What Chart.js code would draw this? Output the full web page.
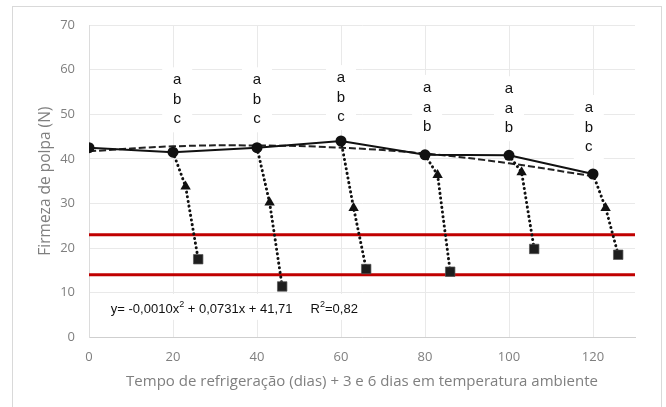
<!DOCTYPE html>
<html>
<head>
<meta charset="utf-8">
<script src="https://cdn.jsdelivr.net/npm/chart.js@4.4.1/dist/chart.umd.min.js"></script>
<style>
  html, body { margin: 0; padding: 0; background: #fff; }
  #wrap { position: relative; width: 666px; height: 407px; }
</style>
</head>
<body>
<div id="wrap"><canvas id="grafico" width="666" height="407"></canvas></div>
<script>
// Dados
const DIAS = [0, 20, 40, 60, 80, 100, 120];
const FIRMEZA = [42.5, 41.5, 42.5, 44.0, 40.9, 40.8, 36.6];
const TENDENCIA = [41.7, 42.8, 43.0, 42.5, 41.2, 39.0, 36.1];
const DIAS_3 = [23, 43, 63, 83, 103, 123];
const FIRMEZA_3 = [33.8, 30.2, 29.0, 36.4, 37.0, 29.0];
const DIAS_6 = [26, 46, 66, 86, 106, 126];
const FIRMEZA_6 = [17.5, 11.4, 15.3, 14.7, 19.8, 18.5];
const LIMITES = [23, 14];
const LIMITE_X = [0, 130];
const LETRAS_X = [21, 40, 60, 80.5, 100, 119];
const LETRAS_Y = [57.6, 57.6, 58.1, 55.9, 55.6, 51.4];
const LETRAS = [['a','b','c'], ['a','b','c'], ['a','b','c'], ['a','a','b'], ['a','a','b'], ['a','b','c']];
const X_TICKS = [0, 20, 40, 60, 80, 100, 120];
const EQUACAO = [['y= -0,0010x', false], ['2', true], [' + 0,0731x + 41,71     R', false], ['2', true], ['=0,82', false]];
const EQ_POS = [5.2, 6.6];

const TICK_FONT = { family: 'Open Sans', size: 13 };
const CINZA = '#7f7f7f';

const pts = (xs, ys) => xs.map((x, i) => ({ x, y: ys[i] }));

// linhas pontilhadas: círculo -> triângulo -> quadrado
const pontilhadas = DIAS_3.map((d, i) => ({
  data: [{ x: DIAS[i + 1], y: FIRMEZA[i + 1] }, { x: d, y: FIRMEZA_3[i] }, { x: DIAS_6[i], y: FIRMEZA_6[i] }],
  borderColor: '#111', borderWidth: 3, borderDash: [0.1, 4.6], borderCapStyle: 'round',
  pointRadius: 0, fill: false
}));

const limites = LIMITES.map(v => ({
  data: LIMITE_X.map(x => ({ x, y: v })),
  borderColor: '#c00000', borderWidth: 3, pointRadius: 0, fill: false
}));

const moldura = {
  id: 'moldura',
  beforeDraw(chart) {
    const ctx = chart.ctx;
    ctx.save();
    ctx.fillStyle = '#fff';
    ctx.fillRect(0, 0, chart.width, chart.height);
    ctx.strokeStyle = '#d9d9d9';
    ctx.lineWidth = 1;
    ctx.strokeRect(12.5, 6.5, 649, 420);
    ctx.restore();
  }
};

const rotulos = {
  id: 'rotulos',
  beforeDatasetsDraw(chart) {
    const { ctx, scales: { x, y } } = chart;
    ctx.save();
    ctx.font = '15px "Liberation Sans", Arial, sans-serif';
    ctx.textAlign = 'center';
    ctx.textBaseline = 'middle';
    LETRAS.forEach((grupo, i) => {
      const px = x.getPixelForValue(LETRAS_X[i]);
      const py = y.getPixelForValue(LETRAS_Y[i]);
      ctx.fillStyle = '#fff';
      ctx.fillRect(px - 15, py - 13, 30, 19.5 * (grupo.length - 1) + 26);
      ctx.fillStyle = '#111';
      grupo.forEach((l, j) => ctx.fillText(l, px, py + j * 19.5));
    });
    // equação da tendência
    const ex = x.getPixelForValue(EQ_POS[0]);
    const ey = y.getPixelForValue(EQ_POS[1]);
    ctx.textAlign = 'left';
    ctx.textBaseline = 'alphabetic';
    let w = 0;
    EQUACAO.forEach(([t, sup]) => {
      ctx.font = (sup ? '9px' : '13px') + ' "Liberation Sans", Arial, sans-serif';
      w += ctx.measureText(t).width;
    });
    ctx.fillStyle = '#fff';
    ctx.fillRect(ex - 6, ey - 14, w + 12, 26);
    ctx.fillStyle = '#111';
    let cx = ex;
    EQUACAO.forEach(([t, sup]) => {
      ctx.font = (sup ? '9px' : '13px') + ' "Liberation Sans", Arial, sans-serif';
      ctx.fillText(t, cx, sup ? ey - 1 : ey + 5);
      cx += ctx.measureText(t).width;
    });
    ctx.restore();
  }
};

new Chart(document.getElementById('grafico'), {
  type: 'line',
  data: {
    datasets: [
      {
        data: pts(DIAS, FIRMEZA), borderColor: '#111', backgroundColor: '#111', borderWidth: 2,
        pointRadius: 5.5, pointStyle: 'circle', pointBorderWidth: 0, fill: false
      },
      {
        data: pts(DIAS_3, FIRMEZA_3), showLine: false, pointStyle: 'triangle', pointRadius: 6,
        backgroundColor: '#111', pointBorderWidth: 0
      },
      {
        data: pts(DIAS_6, FIRMEZA_6), showLine: false, pointStyle: 'rect', pointRadius: 6.7,
        backgroundColor: '#1e1e1e', borderColor: '#555', pointBorderWidth: 0.7
      },
      ...pontilhadas,
      {
        data: pts(DIAS, TENDENCIA), borderColor: '#222', borderWidth: 2, borderDash: [7, 3],
        tension: 0.4, pointRadius: 0, fill: false
      },
      ...limites
    ]
  },
  options: {
    responsive: false,
    animation: false,
    devicePixelRatio: 1,
    layout: { padding: { left: 12, top: 25, right: 31, bottom: 0 } },
    plugins: { legend: { display: false }, tooltip: { enabled: false } },
    scales: {
      x: {
        type: 'linear', min: 0, max: 130,
        afterBuildTicks: s => { s.ticks = X_TICKS.map(v => ({ value: v })); },
        afterFit: s => { s.height = 69.7; },
        grid: { color: '#e9e9e9', drawTicks: false },
        border: { color: '#cfcfcf' },
        ticks: { padding: 12, color: CINZA, font: TICK_FONT },
        title: {
          display: true, text: 'Tempo de refrigeração (dias) + 3 e 6 dias em temperatura ambiente',
          color: CINZA, font: { family: 'Open Sans', size: 15 }, padding: { top: 4, bottom: 16 }
        }
      },
      y: {
        min: 0, max: 70,
        ticks: { stepSize: 10, padding: 14, color: CINZA, font: TICK_FONT },
        afterFit: s => { s.width = 77; },
        grid: { color: '#e9e9e9', drawTicks: false },
        border: { color: '#dcdcdc' },
        title: {
          display: true, text: 'Firmeza de polpa (N)',
          color: CINZA, font: { family: 'Open Sans', size: 15.5 }, padding: { top: 24, bottom: 0 }
        }
      }
    }
  },
  plugins: [moldura, rotulos]
});
</script>
</body>
</html>
